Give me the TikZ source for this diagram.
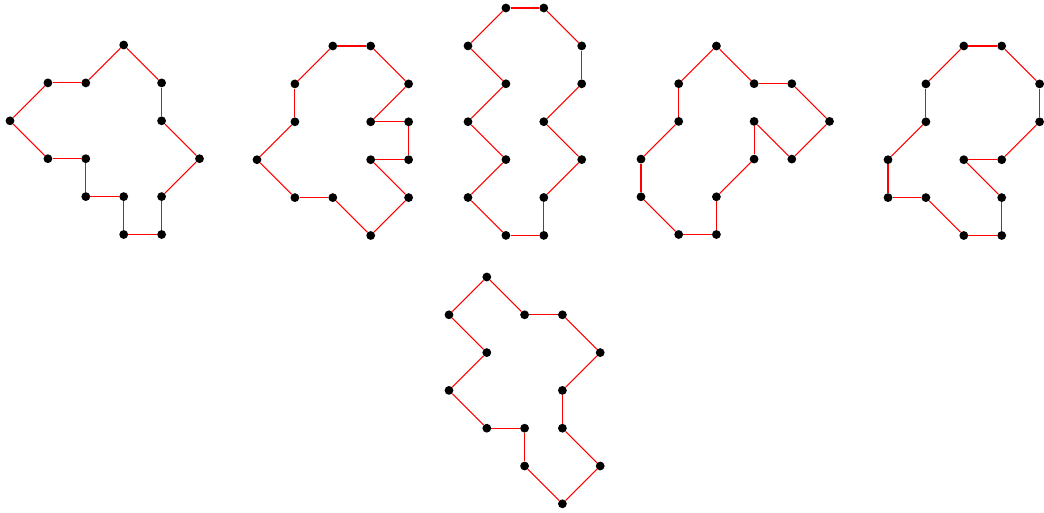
\documentclass[tikz,border=0pt]{standalone}
\tikzset{
  dot/.style={circle,fill=black,inner sep=0pt,minimum size=6.6pt},
  edge/.style={red,line width=0.8pt}
}
\newcommand\drawpoly[4]{%
  \begin{scope}[shift={(#2)}]
    \foreach \gx/\gy [count=\i] in {#4}
      \node[dot] (#1\i) at (\gx*#3,\gy*#3) {};
    \foreach \i in {1,...,14}{
      \pgfmathtruncatemacro\j{mod(\i,14)+1}
      \draw[edge] (#1\i) -- (#1\j);
    }
  \end{scope}}
\begin{document}
\begin{tikzpicture}[x=0.75pt,y=-0.75pt]
\useasboundingbox (0,0) rectangle (1044,513);
\drawpoly{pa}{10,45}{37.9}{0/2,1/1,2/1,3/0,4/1,4/2,5/3,4/4,4/5,3/5,3/4,2/4,2/3,1/3}
\drawpoly{pb}{257,46}{37.9}{2/0,3/0,4/1,3/2,4/2,4/3,3/3,4/4,3/5,2/4,1/4,0/3,1/2,1/1}
\drawpoly{pc}{468,8}{37.9}{1/0,2/0,3/1,3/2,2/3,3/4,2/5,2/6,1/6,0/5,1/4,0/3,1/2,0/1}
\drawpoly{pd}{641,46}{37.7}{2/0,3/1,4/1,5/2,4/3,3/2,3/3,2/4,2/5,1/5,0/4,0/3,1/2,1/1}
\drawpoly{pe}{888,46}{37.9}{2/0,3/0,4/1,4/2,3/3,2/3,3/4,3/5,2/5,1/4,0/4,0/3,1/2,1/1}
\drawpoly{pf}{449,277}{37.8}{1/0,2/1,3/1,4/2,3/3,3/4,4/5,3/6,2/5,2/4,1/4,0/3,1/2,0/1}
\end{tikzpicture}
\end{document}
